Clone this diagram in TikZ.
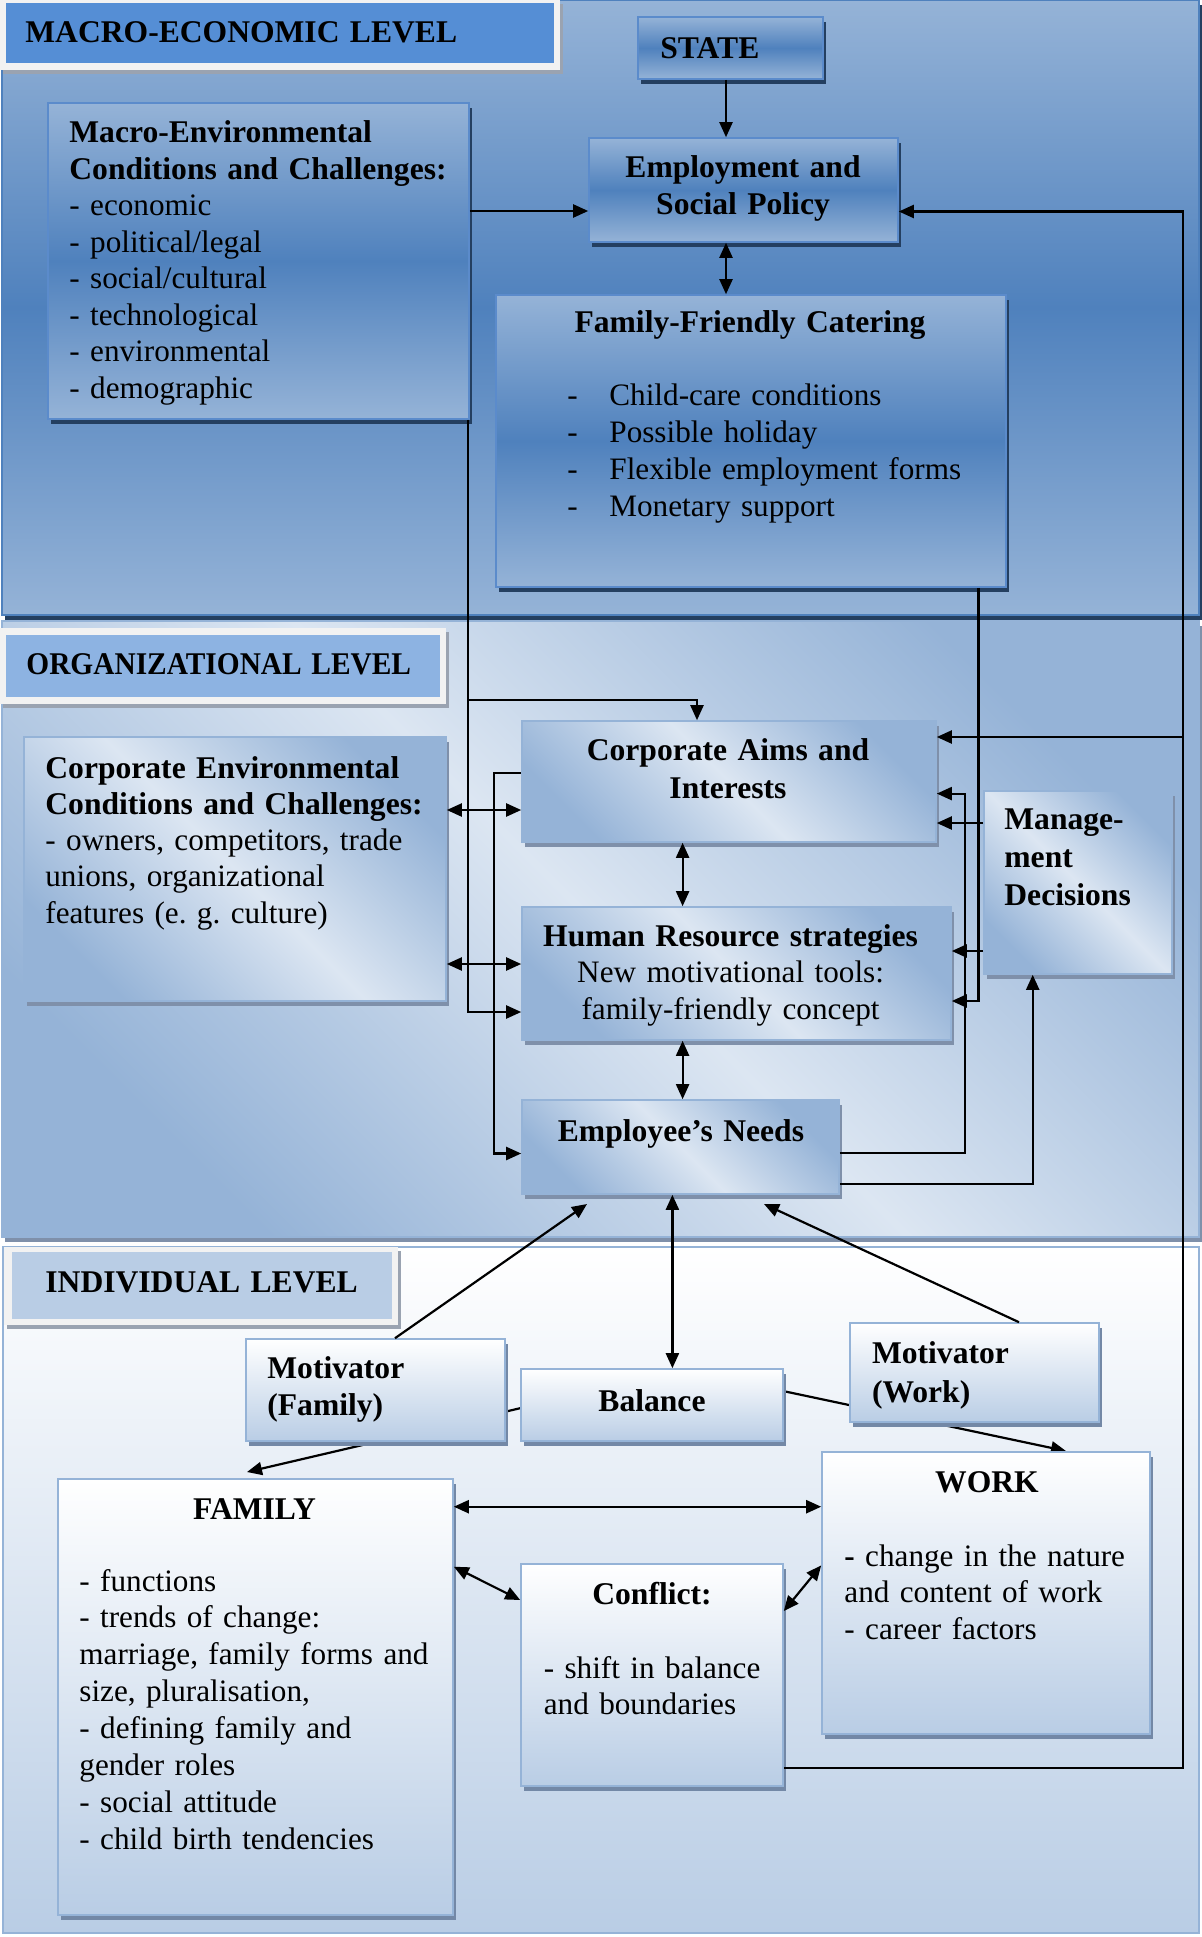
\documentclass[tikz,border=0pt]{standalone}
\usepackage{graphicx}
\usepackage{fontspec}
\setmainfont{Liberation Serif}
\usetikzlibrary{arrows.meta,fit,shadows}
\frenchspacing
\newcommand\bsel{\fontsize{15.8pt}{\baselineskip}\selectfont\bfseries}

\definecolor{mlight}{HTML}{95B3D7}
\definecolor{mdark}{HTML}{4F81BD}
\definecolor{mborder}{HTML}{5B8BCB}
\definecolor{mshadow}{HTML}{243F60}
\definecolor{olight}{HTML}{DCE6F2}
\definecolor{odark}{HTML}{95B3D7}
\definecolor{oborder}{HTML}{95B3D7}
\definecolor{oshadow}{HTML}{7F90AA}
\definecolor{idark}{HTML}{B9CDE5}
\definecolor{iborder}{HTML}{95B3D7}
\definecolor{ishadow}{HTML}{7388A6}
\definecolor{lblmacro}{HTML}{558ED5}
\definecolor{lblorg}{HTML}{8DB3E2}
\definecolor{lblind}{HTML}{B9CDE5}
\definecolor{lblframe}{HTML}{F2F2F2}
\definecolor{lblshadow}{HTML}{9AA3B1}

\begin{document}
\begin{tikzpicture}[x=0.5pt,y=-0.5pt,
  arr/.style={line width=1.1pt, -{Triangle[length=7.5pt,width=6.5pt]}},
  darr/.style={line width=1.1pt, {Triangle[length=7.5pt,width=6.5pt]}-{Triangle[length=7.5pt,width=6.5pt]}},
  mbox/.style={inner sep=0pt, draw=mborder, line width=0.8pt, top color=mlight, bottom color=mlight, middle color=mdark,
    drop shadow={shadow xshift=1.5pt, shadow yshift=-2.5pt, fill=mshadow, opacity=1}},
  obox/.style={inner sep=0pt, draw=oborder, line width=0.8pt, top color=odark, bottom color=odark, middle color=olight, shading angle=-45,
    drop shadow={shadow xshift=1.5pt, shadow yshift=-2.5pt, fill=oshadow, opacity=1}},
  ibox/.style={inner sep=0pt, draw=iborder, line width=0.8pt, top color=white, bottom color=idark,
    drop shadow={shadow xshift=1.5pt, shadow yshift=-2.5pt, fill=ishadow, opacity=1}},
  lblframe/.style={inner sep=0pt, fill=lblframe, drop shadow={shadow xshift=1.5pt, shadow yshift=-2pt, fill=lblshadow, opacity=1}},
  txt/.style={inner sep=0pt, anchor=base west, align=left, text width=#1, font=\fontsize{15.6pt}{18.3pt}\selectfont},
  txt/.default=250pt,
  ctxt/.style={inner sep=0pt, anchor=base, align=center, text width=#1, font=\fontsize{15.6pt}{18.3pt}\selectfont},
  ctxt/.default=250pt,
  lead/.style={font=\fontsize{15.6pt}{#1}\selectfont}
]
\useasboundingbox (0,0) rectangle (1202,1937);
\fill[white] (0,0) rectangle (1202,1937);

% ---------------- level sections
\node[inner sep=0pt, fit={(2,0) (1199,615)}, draw=mdark, line width=1pt, top color=mlight, bottom color=mlight, middle color=mdark,
  drop shadow={shadow xshift=1.5pt, shadow yshift=-2.5pt, fill=mshadow, opacity=1}] (secmacro) {};
\node[inner sep=0pt, fit={(2,621) (1199,1237)}, draw=oborder, line width=1pt, top color=odark, bottom color=odark, middle color=olight, shading angle=-45,
  drop shadow={shadow xshift=1.5pt, shadow yshift=-2.5pt, fill=oshadow, opacity=1}] (secorg) {};
\node[inner sep=0pt, fit={(3,1247) (1199,1933)}, draw=iborder, line width=1pt, top color=white, bottom color=idark] (secind) {};

% ---------------- level labels
\node[lblframe, fit={(0,0) (560,70)}] (lm-frame) {};
\node[inner sep=0pt, fill=lblmacro, fit={(6,3) (554,63)}] (lm) {};
\node[lblframe, fit={(0,628) (446,704)}] (lo-frame) {};
\node[inner sep=0pt, fill=lblorg, fit={(6,635) (440,697)}] (lo) {};
\node[lblframe, fit={(4,1247) (398,1325)}] (li-frame) {};
\node[inner sep=0pt, fill=lblind, fit={(11.5,1252) (392,1319)}] (li) {};

\node[txt=300pt] (t-macro) at (25,43) {\bsel MACRO-ECONOMIC LEVEL};
\node[txt=300pt] (t-org) at (26,674) {\bsel \scalebox{0.93}[1]{ORGANIZATIONAL LEVEL}};
\node[txt=300pt] (t-ind) at (45,1292.5) {\bsel INDIVIDUAL LEVEL};

% ---------------- boxes
\node[mbox, fit={(638,17) (823,79)}] (state) {};
\node[mbox, fit={(589,138) (898,242)}] (emp) {};
\node[mbox, fit={(48,103) (469,419)}] (macroenv) {};
\node[mbox, fit={(496,295) (1006,587)}] (ffc) {};

\node[obox, fit={(24,737) (446,1001)}] (corpenv) {};
\node[obox, fit={(522,721) (936,842)}] (aims) {};
\node[obox, fit={(522,907) (951,1040)}] (hr) {};
\node[obox, fit={(522,1100) (839,1194)}] (en) {};
\node[obox, fit={(984,791) (1172,974)}] (mgmt) {};

% lines that pass behind the motivator boxes
\draw[arr] (521,1408) -- (247,1472);
\draw[arr] (783,1391) -- (1066,1451);

\node[ibox, fit={(246,1339) (505,1441)}] (motfam) {};
\node[ibox, fit={(521,1369) (783,1441)}] (balance) {};
\node[ibox, fit={(850,1323) (1099,1422)}] (motwork) {};
\node[ibox, fit={(58,1479) (453,1915)}] (family) {};
\node[ibox, fit={(822,1452) (1150,1734)}] (work) {};
\node[ibox, fit={(521,1564) (783,1786)}] (conflict) {};

% ---------------- texts
\node[txt=100pt] (t-state) at (660,59) {\bsel STATE};
\node[ctxt=150pt, lead=18.5pt] (t-emp) at (743,178) {\bsel Employment and\\Social Policy};
\node[txt=210pt, lead=18.25pt] (t-macroenv) at (69,143) {{\bsel Macro-Environmental\\Conditions and Challenges:}\\- economic\\- political/legal\\- social/cultural\\- technological\\- environmental\\- demographic};
\node[ctxt=240pt] (t-ffc-title) at (750,332) {\bsel Family-Friendly Catering};
\node[txt=230pt, lead=18.5pt] (t-ffc) at (567,405) {\makebox[21pt][l]{-}Child-care conditions\\\makebox[21pt][l]{-}Possible holiday\\\makebox[21pt][l]{-}Flexible employment forms\\\makebox[21pt][l]{-}Monetary support};

\node[txt=205pt, lead=18.15pt] (t-corpenv) at (45,778) {{\bsel Corporate Environmental\\Conditions and Challenges:}\\- owners, competitors, trade\\unions, organizational\\features (e. g. culture)};
\node[ctxt=200pt, lead=19pt] (t-aims) at (728,760) {\bsel Corporate Aims and\\Interests};
\node[ctxt=210pt, lead=18.3pt] (t-hr) at (730.6,946) {{\bsel Human Resource strategies}\\New motivational tools:\\family-friendly concept};
\node[ctxt=150pt] (t-en) at (681,1141) {\bsel Employee’s Needs};
\node[txt=90pt, lead=19.15pt] (t-mgmt) at (1004,829) {\bsel Manage-\\ment\\Decisions};

\node[txt=120pt, lead=18.8pt] (t-motfam) at (267,1378) {\bsel Motivator\\(Family)};
\node[ctxt=120pt] (t-balance) at (652,1411) {\bsel Balance};
\node[txt=120pt, lead=19.2pt] (t-motwork) at (871.6,1363.6) {\bsel Motivator\\(Work)};
\node[ctxt=150pt] (t-family-title) at (254.5,1519) {\bsel FAMILY};
\node[txt=185pt, lead=18.45pt] (t-family) at (79,1591) {- functions\\- trends of change:\\marriage, family forms and\\size, pluralisation,\\- defining family and\\gender roles\\- social attitude\\- child birth tendencies};
\node[ctxt=150pt] (t-work-title) at (987,1492.5) {\bsel WORK};
\node[txt=150pt, lead=18.3pt] (t-work) at (844,1566) {\textbf{-} change in the nature\\and content of work\\- career factors};
\node[ctxt=120pt] (t-conflict-title) at (652,1604.5) {\bsel Conflict:};
\node[txt=120pt, lead=18.35pt] (t-conflict) at (543.4,1678) {- shift in balance\\and boundaries};

% ---------------- connectors
\draw[arr] (state.south -| 726,0) -- (emp.north -| 726,0);
\draw[darr] (emp.south -| 726,0) -- (ffc.north -| 726,0);
\draw[arr] (macroenv.east |- 0,211) -- (emp.west |- 0,211);
\coordinate (rail-bot) at (1182.7,1767.7);
\coordinate (rail-aims) at (1182.7,737);
\draw[arr] (conflict.east |- rail-bot) -- (rail-bot) -- (1182.7,211.5) -- (emp.east |- 0,211.5);
\draw[arr] (rail-aims) -- (aims.east |- rail-aims);

\draw[arr] (macroenv.south -| 468,0) |- (697,700) -- (aims.north -| 697,0);
\draw[arr] (macroenv.south -| 468,0) |- (hr.west |- 0,1012);
\draw[darr] (corpenv.east |- 0,810) -- (aims.west |- 0,810);
\draw[darr] (corpenv.east |- 0,964) -- (hr.west |- 0,964);
\draw[arr] (aims.west |- 0,773) -| (494,1153.5) -- (en.west |- 0,1153.5);
\draw[darr] (aims.south -| 682.6,0) -- (hr.north -| 682.6,0);
\draw[darr] (hr.south -| 682.6,0) -- (en.north -| 682.6,0);
\draw[arr] (ffc.south -| 978.5,0) |- (hr.east |- 0,1001);
\draw[arr] (en.east |- 0,1153) -| (964.6,793.6) -- (aims.east |- 0,793.6);
\draw[arr] (mgmt.west |- 0,823) -- (aims.east |- 0,823);
\draw[arr] (mgmt.west |- 0,951) -- (hr.east |- 0,951);
\draw[arr] (en.east |- 0,1183.6) -| (mgmt.south -| 1032.7,0);

\draw[arr] (motfam.north -| 395,0) -- (587,1204);
\draw[arr] (motwork.north -| 1019,0) -- (764,1204);
\draw[darr] (balance.north -| 672.4,0) -- (en.south -| 672.4,0);
\draw[darr] (family.east |- 0,1506.7) -- (work.west |- 0,1506.7);
\draw[darr] (family.east |- 0,1566.7) -- (conflict.west |- 0,1600);
\draw[darr] (conflict.east |- 0,1611) -- (work.west |- 0,1565.4);
\end{tikzpicture}
\end{document}
